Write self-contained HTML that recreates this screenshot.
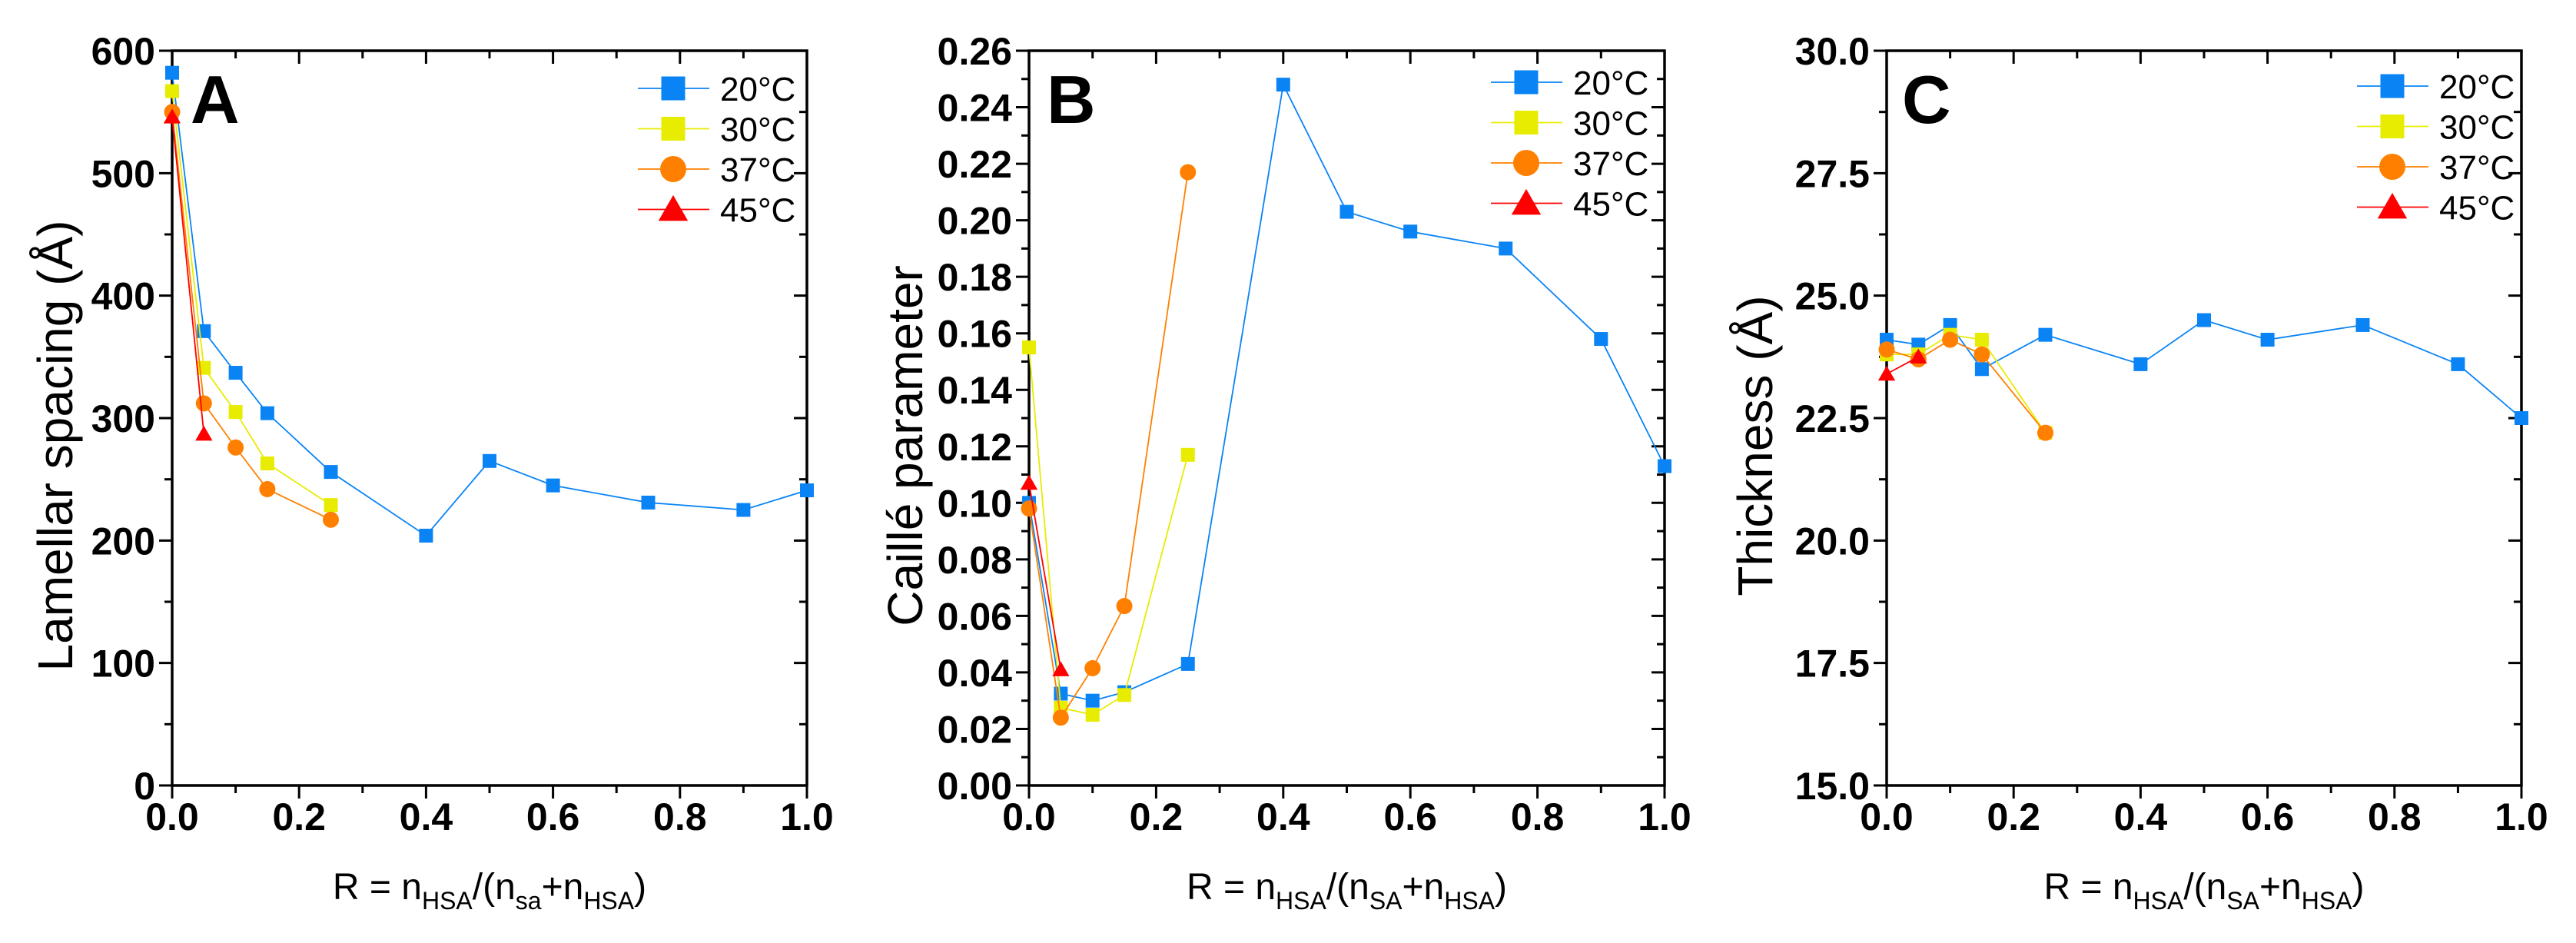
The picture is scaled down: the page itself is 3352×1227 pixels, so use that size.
<!DOCTYPE html>
<html><head><meta charset="utf-8"><style>
html,body{margin:0;padding:0;background:#fff;}
svg{display:block;font-family:"Liberation Sans",Arial,sans-serif;}
</style></head><body>
<svg id="chart" width="3352" height="1227" viewBox="0 0 3352 1227" xmlns="http://www.w3.org/2000/svg"></svg>
<script>
const xValsFull = [0, 0.05, 0.1, 0.15, 0.25, 0.4, 0.5, 0.6, 0.75, 0.9, 1.0];
const xValsShort = [0, 0.05, 0.1, 0.15, 0.25];
const xValsTwo = [0, 0.05];
const xTickLabels = ["0.0","0.2","0.4","0.6","0.8","1.0"];
const seriesNames = ["20°C","30°C","37°C","45°C"];

const spacing20 = [582, 371, 337, 304, 256, 204, 265, 245, 231, 225, 241];
const spacing30 = [567, 341, 305, 263, 229];
const spacing37 = [550, 312, 276, 242, 217];
const spacing45 = [546, 287];
const spacingTicks = ["0","100","200","300","400","500","600"];

const caille20 = [0.100, 0.0325, 0.030, 0.033, 0.043, 0.248, 0.203, 0.196, 0.190, 0.158, 0.113];
const caille30 = [0.155, 0.0275, 0.025, 0.032, 0.117];
const caille37 = [0.098, 0.024, 0.0415, 0.0635, 0.217];
const caille45 = [0.107, 0.041];
const cailleTicks = ["0.00","0.02","0.04","0.06","0.08","0.10","0.12","0.14","0.16","0.18","0.20","0.22","0.24","0.26"];

const thick20 = [24.1, 24.0, 24.4, 23.5, 24.2, 23.6, 24.5, 24.1, 24.4, 23.6, 22.5];
const thick30 = [23.8, 23.8, 24.2, 24.1, 22.2];
const thick37 = [23.9, 23.7, 24.1, 23.8, 22.2];
const thick45 = [23.4, 23.75];
const thickTicks = ["15.0","17.5","20.0","22.5","25.0","27.5","30.0"];

const NS = "http://www.w3.org/2000/svg";
const svg = document.getElementById("chart");
const COLORS = ["#0a84f5", "#e8ec00", "#ff8000", "#ff0000"];
const SHAPES = ["square","square","circle","triangle"];

function mk(tag, attrs, parent) {
  const e = document.createElementNS(NS, tag);
  for (const k in attrs) e.setAttribute(k, attrs[k]);
  (parent || svg).appendChild(e);
  return e;
}
function marker(g, shape, cx, cy, s, color) {
  let m;
  if (shape === "square") m = mk("rect", {x: cx - s/2, y: cy - s/2, width: s, height: s, fill: color}, g);
  else if (shape === "circle") m = mk("circle", {cx: cx, cy: cy, r: s/2 + 1.5, fill: color}, g);
  else m = mk("polygon", {points: `${cx},${cy - s*0.6} ${cx - s*0.62},${cy + s*0.48} ${cx + s*0.62},${cy + s*0.48}`, fill: color}, g);
  return m;
}

function panel(cfg) {
  const g = mk("g", {});
  
  
  const L = cfg.left, R = cfg.right, T = 66, B = 1022;
  const xs = v => L + (v - 0) / 1.0 * (R - L);
  const ys = v => B - (v - cfg.ymin) / (cfg.ymax - cfg.ymin) * (B - T);
  const fr = mk("rect", {x: L, y: T, width: R - L, height: B - T, fill: "none", stroke: "#000", "stroke-width": 3.5}, g);
  
  
  for (let i = 0; i <= 10; i++) {
    const v = i / 10, x = xs(v), major = i % 2 === 0, len = major ? 17 : 10;
    mk("line", {x1: x, y1: B, x2: x, y2: B + len, stroke: "#000", "stroke-width": 3}, g);
    mk("line", {x1: x, y1: T, x2: x, y2: T + len, stroke: "#000", "stroke-width": 3}, g);
  }
  xTickLabels.forEach((lab, i) => {
    const t = mk("text", {x: xs(i * 0.2), y: 1080, "font-size": 50, "font-weight": "bold", "text-anchor": "middle"}, g);
    t.textContent = lab;
    
    
  });
  const n = cfg.yticks.length - 1, step = (cfg.ymax - cfg.ymin) / n;
  for (let i = 0; i <= 2 * n; i++) {
    const v = cfg.ymin + i * step / 2, y = ys(v), major = i % 2 === 0, len = major ? 17 : 10;
    mk("line", {x1: L, y1: y, x2: L - len, y2: y, stroke: "#000", "stroke-width": 3}, g);
    mk("line", {x1: R, y1: y, x2: R - len, y2: y, stroke: "#000", "stroke-width": 3}, g);
  }
  cfg.yticks.forEach((lab, i) => {
    const t = mk("text", {x: L - 22, y: ys(cfg.ymin + i * step) + 18, "font-size": 50, "font-weight": "bold", "text-anchor": "end"}, g);
    t.textContent = lab;
    
    
  });
  const yt = mk("text", {x: 0, y: 0, "font-size": 64, "text-anchor": "middle", transform: `translate(${cfg.ytx},580) rotate(-90)`}, g);
  yt.textContent = cfg.ytitle;
  
  
  const xt = mk("text", {x: (L + R) / 2, y: 1170, "font-size": 48, "text-anchor": "middle"}, g);
  xt.innerHTML = `R = n<tspan font-size="32" dy="13">HSA</tspan><tspan dy="-13">/(n</tspan><tspan font-size="32" dy="13">${cfg.sa}</tspan><tspan dy="-13">+n</tspan><tspan font-size="32" dy="13">HSA</tspan><tspan dy="-13">)</tspan>`;
  
  
  const pl = mk("text", {x: cfg.letterX, y: 160, "font-size": 88, "font-weight": "bold"}, g);
  pl.textContent = cfg.letter;
  
  
  cfg.series.forEach((s, si) => {
    const sg = mk("g", {}, g);
    
    
    const pts = s.x.map((xv, i) => `${xs(xv)},${ys(s.y[i])}`).join(" ");
    mk("polyline", {points: pts, fill: "none", stroke: COLORS[si], "stroke-width": 1.8}, sg);
    s.x.forEach((xv, i) => {
      const m = marker(sg, SHAPES[si], xs(xv), ys(s.y[i]), 18, COLORS[si]);
      
      
    });
  });
  const lg = mk("g", {}, g);
  
  
  seriesNames.forEach((nm, i) => {
    const y = cfg.legY + i * 52.5;
    const e = mk("g", {}, lg);
    
    
    mk("line", {x1: cfg.legX, y1: y, x2: cfg.legX + 93, y2: y, stroke: COLORS[i], "stroke-width": 1.8}, e);
    marker(e, SHAPES[i], cfg.legX + 46, y, 31, COLORS[i]);
    const t = mk("text", {x: cfg.legX + 107, y: y + 16, "font-size": 44}, e);
    t.textContent = nm;
  });
}

panel({name: "panel-a-lamellar-spacing", left: 224, right: 1050, ymin: 0, ymax: 600, yticks: spacingTicks,
  ytitle: "Lamellar spacing (Å)", ytx: 94, sa: "sa", letter: "A", letterX: 248, legX: 830, legY: 115,
  series: [{x: xValsFull, y: spacing20}, {x: xValsShort, y: spacing30}, {x: xValsShort, y: spacing37}, {x: xValsTwo, y: spacing45}]});
panel({name: "panel-b-caille-parameter", left: 1339, right: 2166, ymin: 0, ymax: 0.26, yticks: cailleTicks,
  ytitle: "Caillé parameter", ytx: 1200, sa: "SA", letter: "B", letterX: 1362, legX: 1940, legY: 107,
  series: [{x: xValsFull, y: caille20}, {x: xValsShort, y: caille30}, {x: xValsShort, y: caille37}, {x: xValsTwo, y: caille45}]});
panel({name: "panel-c-thickness", left: 2455, right: 3281, ymin: 15, ymax: 30, yticks: thickTicks,
  ytitle: "Thickness (Å)", ytx: 2306, sa: "SA", letter: "C", letterX: 2475, legX: 3067, legY: 112,
  series: [{x: xValsFull, y: thick20}, {x: xValsShort, y: thick30}, {x: xValsShort, y: thick37}, {x: xValsTwo, y: thick45}]});
</script>
</body></html>
